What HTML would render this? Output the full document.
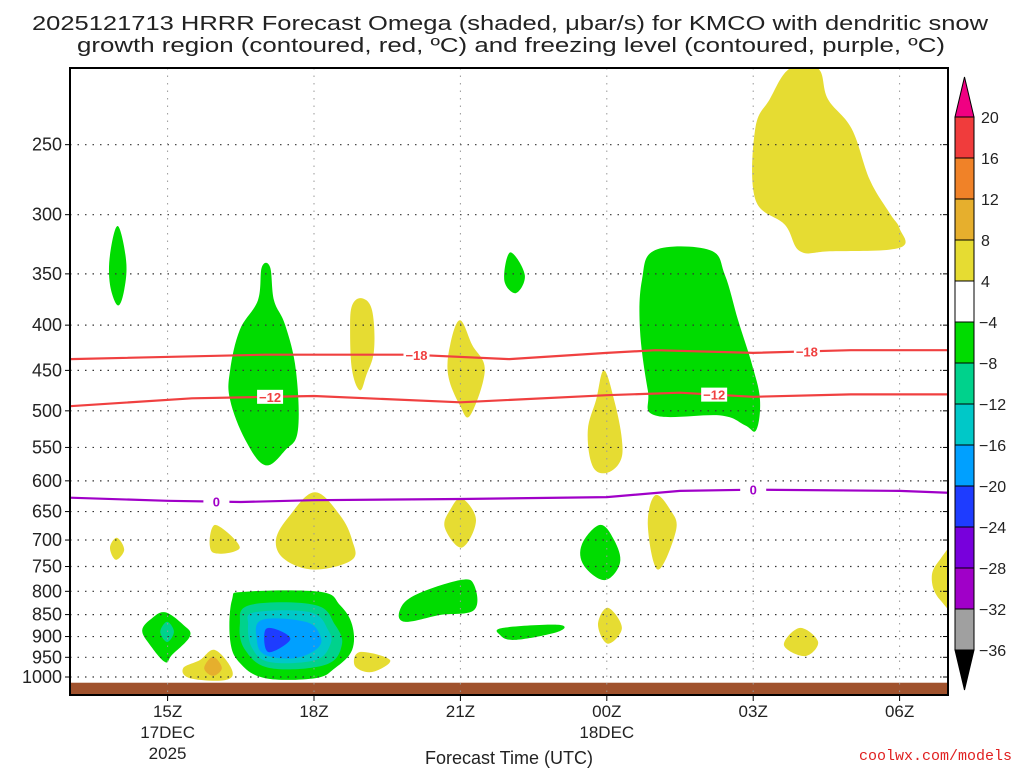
<!DOCTYPE html>
<html><head><meta charset="utf-8"><style>
html,body{margin:0;padding:0;background:#fff;width:1024px;height:768px;overflow:hidden}
svg{display:block}
text{font-family:"Liberation Sans",sans-serif;fill:#222}
</style></head><body>
<svg id="chart" width="1024" height="768" viewBox="0 0 1024 768" xmlns="http://www.w3.org/2000/svg">
<text x="32" y="30" font-size="20" textLength="956" lengthAdjust="spacingAndGlyphs">2025121713 HRRR Forecast Omega (shaded, μbar/s) for KMCO with dendritic snow</text>
<text x="77" y="52" font-size="20" textLength="868" lengthAdjust="spacingAndGlyphs">growth region (contoured, red, ºC) and freezing level (contoured, purple, ºC)</text>
<g id="shade"></g>
<g id="grid"></g>
<g id="lines"></g>
<g id="axes"></g>
<g id="cbar"></g>
<text x="509" y="764" font-size="18" text-anchor="middle">Forecast Time (UTC)</text>
<text x="1012" y="760" font-size="15" text-anchor="end" style="fill:#e02020;font-family:'Liberation Mono',monospace">coolwx.com/models</text>
</svg>
<script>
// ---- data ----
const pressureTicks=[250,300,350,400,450,500,550,600,650,700,750,800,850,900,950,1000];
const timeTickHours=[15,18,21,24,27,30];
const timeTickLabels=["15Z","18Z","21Z","00Z","03Z","06Z"];
const cbarLevels=[20,16,12,8,4,-4,-8,-12,-16,-20,-24,-28,-32,-36];
const cbarColors=["#f03c3c","#f08228","#e6af2d","#e6dc32","#ffffff","#00dc00","#00d28c","#00c8c8","#00a0ff","#1e3cff","#7800dc","#a000c8","#a0a0a0"];
const dgzMinus18Hours=[13,17,20,22,24,25,27,29,31];
const dgzMinus18Press=[437,432,432,437,430,427,430,427,427];
const dgzMinus12Hours=[13,15.5,18,21,24,25.5,27,29,31];
const dgzMinus12Press=[494,484,481,489,480,477,482,479,479];
const freezeHours=[13,15,16.5,18,21,24,25.5,27,30,31];
const freezePress=[627,632,634,631,629,626,616,614,616,619];
const Y="#e6dc32",G="#00dc00",SG="#00d28c",C="#00c8c8",B="#00a0ff",DB="#1e3cff",O="#e6af2d";
const blobs=[
[Y,[27.75,28.33,28.53,29.02,29.39,29.8,30,30,28.57,27.96,27.65,27.04,27.04,27.34],[205,205,222,240,274,299,311,327,330,330,308,288,240,222]],
[G,[13.98,14.15,14.11,13.98,13.82,13.82],[309,338,365,380,360,333]],
[G,[16.93,17.1,17.18,17.41,17.63,17.67,17.41,17,16.59,16.28,16.28,16.48,16.85],[344,344,375,400,450,526,554,576,539,486,450,405,375]],
[Y,[18.98,19.19,19.23,19.07,18.94,18.78,18.74,18.78],[373,385,427,456,474,450,405,380]],
[Y,[20.99,21.24,21.5,21.2,20.99,20.75,20.79],[395,421,450,506,493,456,421]],
[G,[22.02,22.32,22.14,21.9],[331,351,368,356]],
[Y,[23.94,24.15,24.31,24.27,23.98,23.7,23.61,23.78],[450,486,539,571,588,576,526,486]],
[G,[24.99,26.11,26.42,26.69,26.98,27.14,27.06,26.83,26.32,24.99,24.84,24.68,24.72],[329,329,351,395,444,486,526,519,506,506,474,405,356]],
[Y,[13.96,14.11,13.94,13.82],[696,718,737,714]],
[Y,[15.97,16.48,15.91],[673,714,722]],
[Y,[18.02,18.53,18.78,18.78,18.02,17.41,17.22,17.51],[618,656,700,737,756,737,700,656]],
[Y,[21.03,21.32,21.03,20.68,20.79],[628,665,714,678,647]],
[G,[23.86,24.15,24.27,23.96,23.53,23.49],[673,700,743,777,748,708]],
[Y,[24.99,25.3,25.42,25.05,24.84],[623,647,682,756,673]],
[Y,[31.3,31.3,30.83,30.66,30.79],[700,850,818,777,741]],
[G,[20.99,21.28,21.28,20.58,19.86,19.76,20.07],[777,787,840,851,866,840,808]],
[G,[21.87,23,23,22.12,21.81],[880,873,889,908,896]],
[Y,[24.02,24.31,24.02,23.82],[835,880,917,873]],
[Y,[27.96,28.33,28.06,27.63],[880,913,947,920]],
[Y,[18.94,19.56,19.19,18.84],[937,957,987,972]],
[Y,[15.97,16.32,16.18,15.46,15.32,15.66],[932,982,1008,1003,977,957]],
[O,[15.93,16.11,15.93,15.75],[949,977,997,977]],
[G,[14.95,15.32,15.46,15.09,14.95,14.64,14.48,14.68],[845,873,899,944,962,920,885,858]],
[SG,[14.99,15.13,14.99,14.85],[866,889,913,889]],
[G,[16.59,18.12,18.53,18.78,18.78,18.43,18.02,17,16.48,16.28,16.32],[801,801,829,873,932,977,1003,1003,964,908,818]],
[SG,[16.69,18.02,18.43,18.57,18.23,17.1,16.59,16.48],[829,829,873,920,969,977,932,873]],
[C,[16.79,17.92,18.29,18.33,18.02,17.1,16.73,16.65],[845,845,885,920,957,962,927,873]],
[B,[16.93,17.82,18.12,18.08,17.61,17,16.83],[862,866,896,927,952,944,908]],
[DB,[17,17.27,17.51,17.06],[885,885,908,937]]
];
// ---- axes ----
const L=70,R=948,T=68,Bt=695,H0=13,PX=48.8;
const xs=h=>L+(h-H0)*PX;
const ys=p=>677-384*Math.log(1000/p);
const NS="http://www.w3.org/2000/svg";
function mk(tag,parent,attrs){const e=document.createElementNS(NS,tag);for(const k in attrs)e.setAttribute(k,attrs[k]);parent.appendChild(e);return e;}
function smooth(P){const n=P.length;let d='M'+P[0][0].toFixed(1)+','+P[0][1].toFixed(1);const k=0.18;
  for(let i=0;i<n;i++){const p0=P[(i-1+n)%n],p1=P[i],p2=P[(i+1)%n],p3=P[(i+2)%n];
    const c1=[p1[0]+(p2[0]-p0[0])*k,p1[1]+(p2[1]-p0[1])*k],c2=[p2[0]-(p3[0]-p1[0])*k,p2[1]-(p3[1]-p1[1])*k];
    d+=' C'+c1.map(v=>v.toFixed(1)).join(',')+' '+c2.map(v=>v.toFixed(1)).join(',')+' '+p2.map(v=>v.toFixed(1)).join(',');}
  return d+'Z';}
const shade=document.getElementById('shade'),grid=document.getElementById('grid'),lines=document.getElementById('lines'),axes=document.getElementById('axes'),cb=document.getElementById('cbar');
const clip=mk('clipPath',document.getElementById('chart'),{id:'pc'});
mk('rect',clip,{x:L,y:T,width:R-L,height:Bt-T});
shade.setAttribute('clip-path','url(#pc)');lines.setAttribute('clip-path','url(#pc)');
blobs.forEach((b,i)=>{
  const P=b[1].map((h,j)=>[xs(h),ys(b[2][j])]);
  const e=mk('path',shade,{d:smooth(P),fill:b[0]});
  
  
});
const gr=mk('rect',shade,{x:L,y:ys(1015),width:R-L,height:Bt-ys(1015),fill:'#a0522d'});


pressureTicks.forEach(p=>{
  const y=ys(p);
  const g=mk('line',grid,{x1:L,x2:R,y1:y,y2:y,stroke:'#333','stroke-width':1.2,'stroke-dasharray':'1.5 6'});
  
  
  mk('line',axes,{x1:L-5,x2:L,y1:y,y2:y,stroke:'#000'});
  mk('line',axes,{x1:R-5,x2:R,y1:y,y2:y,stroke:'#000'});
  const t=mk('text',axes,{x:L-8,y:y+6,'font-size':18,'text-anchor':'end'});t.textContent=p;
  
  
});
timeTickHours.forEach((h,i)=>{
  const x=xs(h);
  const g=mk('line',grid,{x1:x,x2:x,y1:T,y2:Bt,stroke:'#999','stroke-width':1,'stroke-dasharray':'1.5 6'});
  
  
  mk('line',axes,{x1:x,x2:x,y1:Bt,y2:Bt+6,stroke:'#000'});
  const t=mk('text',axes,{x:x,y:717,'font-size':17,'text-anchor':'middle'});t.textContent=timeTickLabels[i];
  
  
});
[["17DEC",xs(15),738],["2025",xs(15),759],["18DEC",xs(24),738]].forEach(d=>{
  const t=mk('text',axes,{x:d[1],y:d[2],'font-size':17,'text-anchor':'middle'});t.textContent=d[0];
  
  
});
const fr=mk('rect',axes,{x:L,y:T,width:R-L,height:Bt-T,fill:'none',stroke:'#000','stroke-width':2});


function contour(hs,ps,color,name,labels,lab){
  const d=hs.map((h,j)=>(j?'L':'M')+xs(h).toFixed(1)+','+ys(ps[j]).toFixed(1)).join(' ');
  const e=mk('path',lines,{d:d,fill:'none',stroke:color,'stroke-width':2.2});
  
  
  labels.forEach(h=>{
    let j=0;while(j<hs.length-2&&hs[j+1]<h)j++;
    const f=(h-hs[j])/(hs[j+1]-hs[j]);const p=ps[j]+f*(ps[j+1]-ps[j]);
    const x=xs(h),y=ys(p);
    mk('rect',lines,{x:x-13,y:y-7,width:26,height:14,fill:'#fff'});
    const t=mk('text',lines,{x:x,y:y+5,'font-size':13,'font-weight':'bold','text-anchor':'middle',style:'fill:'+color});t.textContent=lab;
    
    
  });
}
contour(dgzMinus18Hours,dgzMinus18Press,'#f04040','contour-minus18',[20.1,28.1],'−18');
contour(dgzMinus12Hours,dgzMinus12Press,'#f04040','contour-minus12',[17.1,26.2],'−12');
contour(freezeHours,freezePress,'#a000c8','freezing-level',[16,27],'0');
// colorbar
const cx=955,cw=19,ct=117,ch=41;
cbarColors.forEach((c,i)=>{
  const r=mk('rect',cb,{x:cx,y:ct+i*ch,width:cw,height:ch,fill:c,stroke:'#000','stroke-width':1});
  
  
});
const bot=ct+cbarColors.length*ch;
const tu=mk('polygon',cb,{points:`${cx},${ct} ${cx+cw},${ct} ${cx+cw/2},77`,fill:'#f00082',stroke:'#000'});


const td=mk('polygon',cb,{points:`${cx},${bot} ${cx+cw},${bot} ${cx+cw/2},690`,fill:'#000',stroke:'#000'});


cbarLevels.forEach((v,i)=>{
  const t=mk('text',cb,{x:v<0?979:981,y:ct+i*ch+6,'font-size':16});t.textContent=v<0?'−'+(-v):v;
  
  
});
</script>
</body></html>
